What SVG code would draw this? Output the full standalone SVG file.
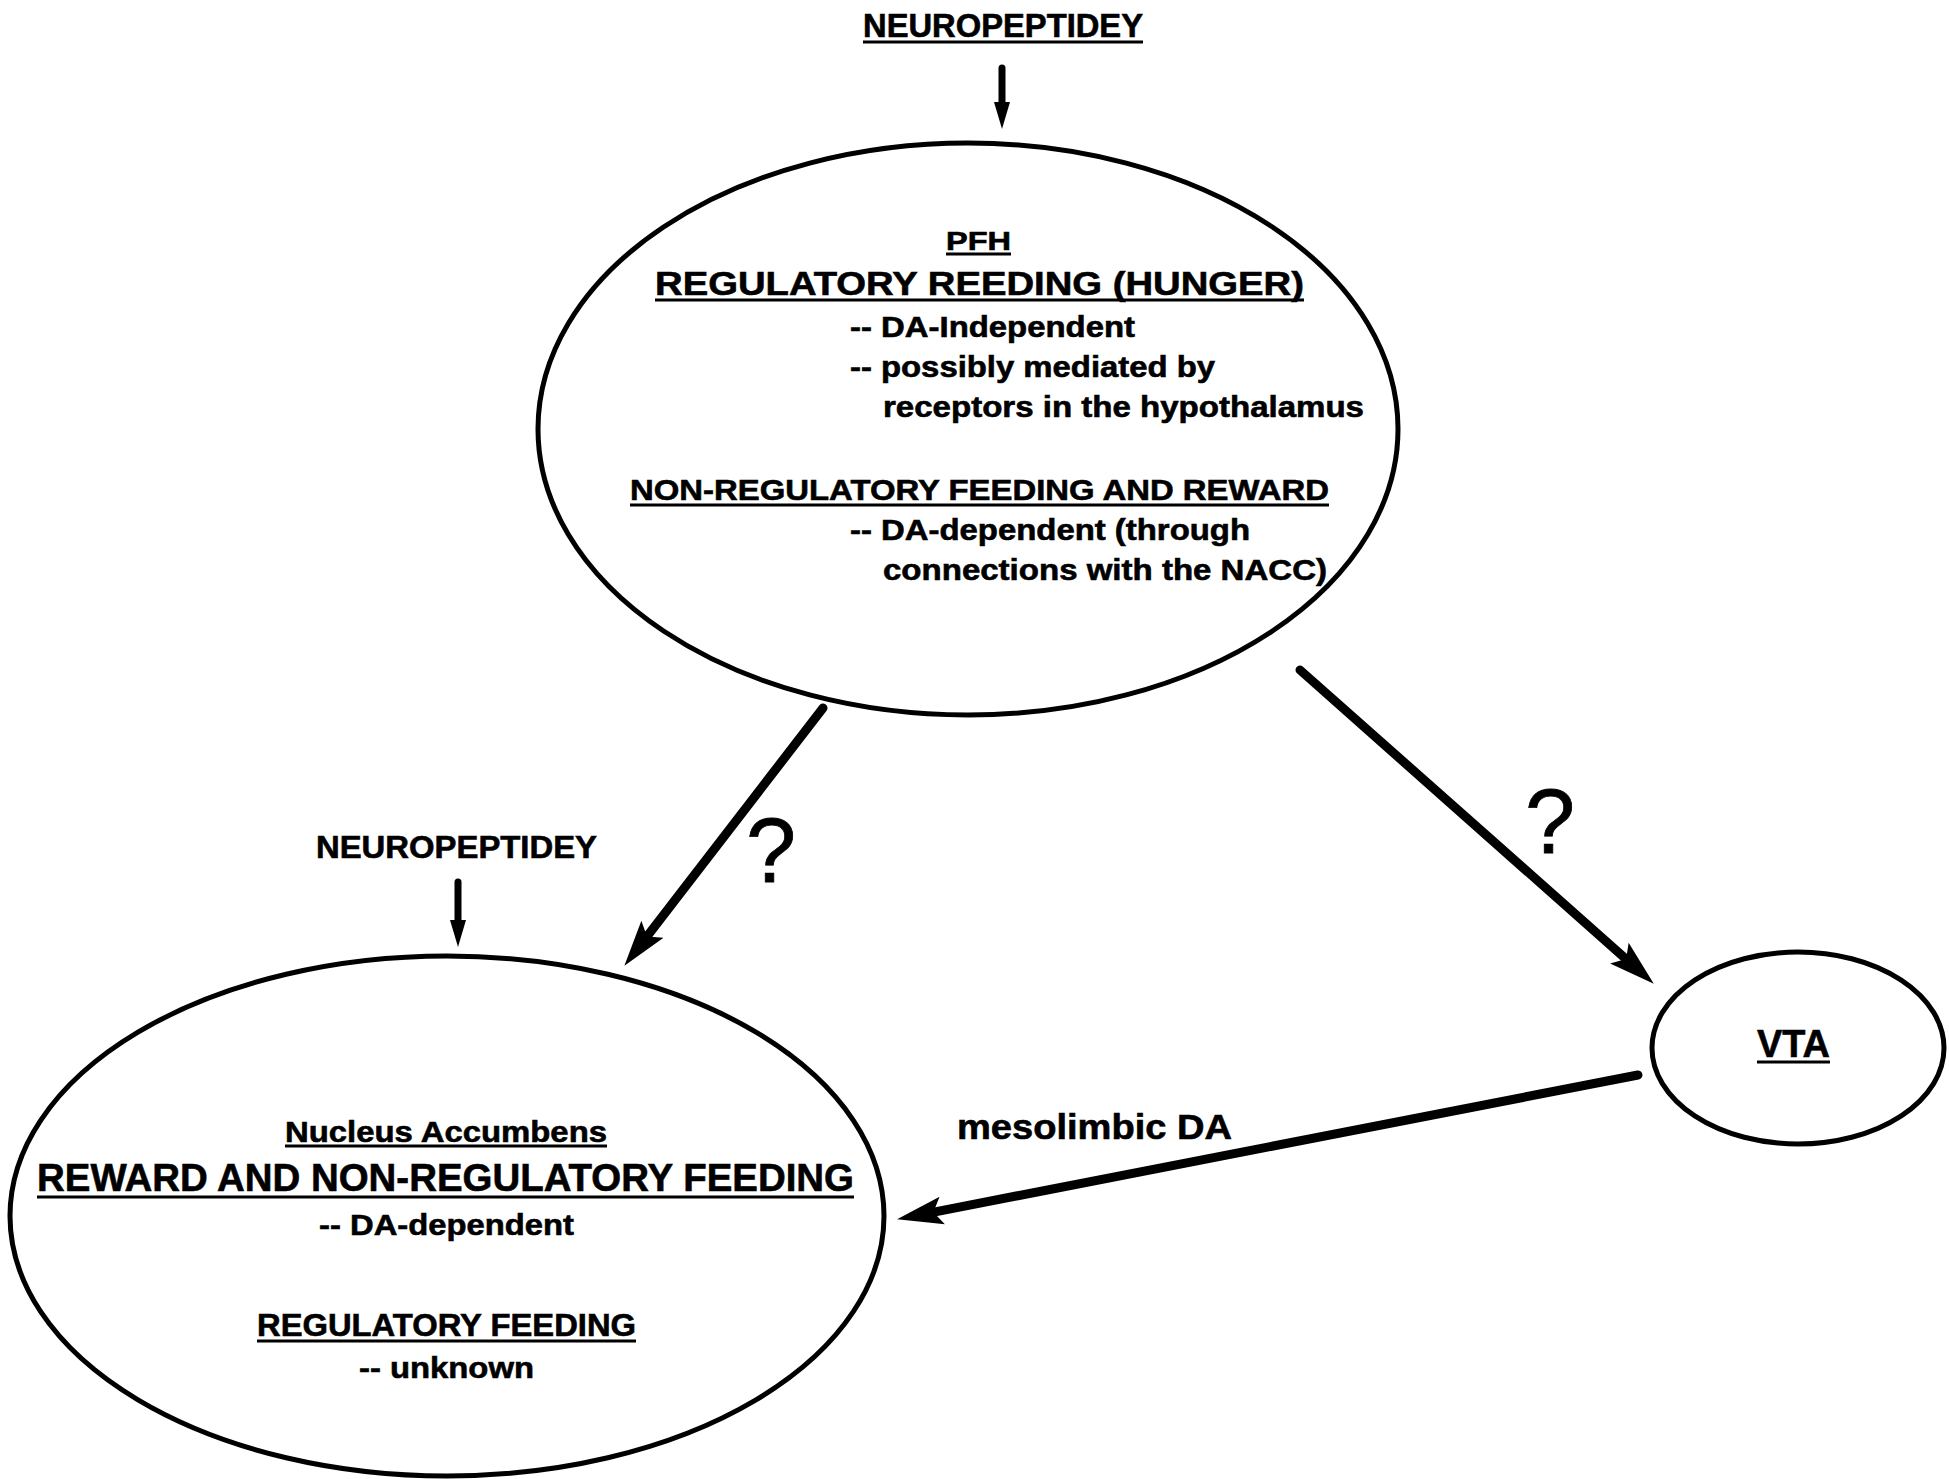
<svg xmlns="http://www.w3.org/2000/svg" width="1949" height="1479" viewBox="0 0 1949 1479">
<style>
.bg{fill:#ffffff}
.node{fill:none;stroke:#000;stroke-width:5}
.t{font-family:"Liberation Sans",Arial,Helvetica,sans-serif;font-weight:bold;fill:#000;stroke:#000;stroke-width:0.6}
.q{font-family:"Liberation Sans",Arial,Helvetica,sans-serif;font-weight:normal;fill:#000;stroke:#000;stroke-width:0.8}
.ul{stroke:#000;stroke-width:3}
.big{fill:none;stroke:#000;stroke-width:9;stroke-linecap:round;marker-end:url(#bigHead)}
.small{fill:none;stroke:#000;stroke-width:7;stroke-linecap:round;marker-end:url(#smallHead)}
</style>
<defs>
<marker id="bigHead" markerUnits="userSpaceOnUse" viewBox="0 0 48 32" markerWidth="48" markerHeight="32" refX="15" refY="16" orient="auto">
<path d="M46,16 L0,2 L9,16 L0,30 Z" fill="#000"/>
</marker>
<marker id="smallHead" markerUnits="userSpaceOnUse" viewBox="0 0 28 18" markerWidth="28" markerHeight="18" refX="2" refY="9" orient="auto">
<path d="M0,1 L27,9 L0,17 Z" fill="#000"/>
</marker>
</defs>
<rect class="bg" x="0" y="0" width="1949" height="1479"/>

<g id="connectors">
<line id="npy-top-arrow" class="small" x1="1002" y1="68" x2="1002" y2="104"/>
<line id="npy-nacc-arrow" class="small" x1="458" y1="882" x2="458" y2="922"/>
<line id="pfh-nacc" class="big" x1="823" y1="708" x2="643.3" y2="941.2"/>
<line id="pfh-vta" class="big" x1="1300" y1="670" x2="1630.6" y2="963.1"/>
<line id="vta-nacc" class="big" x1="1638" y1="1075" x2="927.5" y2="1213.3"/>
<text class="q" x="771" y="882" font-size="90" text-anchor="middle">?</text>
<text class="q" x="1550" y="853" font-size="90" text-anchor="middle">?</text>
<text class="t" x="957" y="1139" font-size="35" textLength="275" lengthAdjust="spacingAndGlyphs">mesolimbic DA</text>
</g>

<g id="npy-top">
<text class="t" x="863" y="37" font-size="33" textLength="280" lengthAdjust="spacingAndGlyphs">NEUROPEPTIDEY</text>
<line class="ul" x1="863" y1="42" x2="1143" y2="42"/>
</g>

<g id="npy-nacc">
<text class="t" x="316" y="858" font-size="31" textLength="281" lengthAdjust="spacingAndGlyphs">NEUROPEPTIDEY</text>
</g>

<g id="pfh">
<ellipse class="node" cx="968" cy="429" rx="430" ry="286"/>
<text class="t" x="946" y="250" font-size="26" textLength="65" lengthAdjust="spacingAndGlyphs">PFH</text>
<line class="ul" x1="946" y1="254" x2="1011" y2="254"/>
<text class="t" x="655" y="295" font-size="34" textLength="649" lengthAdjust="spacingAndGlyphs">REGULATORY REEDING (HUNGER)</text>
<line class="ul" x1="655" y1="300" x2="1304" y2="300"/>
<text class="t" x="850" y="337" font-size="29" textLength="285" lengthAdjust="spacingAndGlyphs">-- DA-Independent</text>
<text class="t" x="850" y="377" font-size="29" textLength="365" lengthAdjust="spacingAndGlyphs">-- possibly mediated by</text>
<text class="t" x="883" y="417" font-size="29" textLength="481" lengthAdjust="spacingAndGlyphs">receptors in the hypothalamus</text>
<text class="t" x="630" y="500" font-size="30" textLength="699" lengthAdjust="spacingAndGlyphs">NON-REGULATORY FEEDING AND REWARD</text>
<line class="ul" x1="630" y1="505" x2="1329" y2="505"/>
<text class="t" x="850" y="540" font-size="29" textLength="400" lengthAdjust="spacingAndGlyphs">-- DA-dependent (through</text>
<text class="t" x="883" y="580" font-size="29" textLength="444" lengthAdjust="spacingAndGlyphs">connections with the NACC)</text>
</g>

<g id="nacc">
<ellipse class="node" cx="447" cy="1216" rx="437" ry="260"/>
<text class="t" x="285" y="1142" font-size="30" textLength="322" lengthAdjust="spacingAndGlyphs">Nucleus Accumbens</text>
<line class="ul" x1="285" y1="1146" x2="607" y2="1146"/>
<text class="t" x="37" y="1191" font-size="39" textLength="817" lengthAdjust="spacingAndGlyphs">REWARD AND NON-REGULATORY FEEDING</text>
<line class="ul" x1="37" y1="1197" x2="854" y2="1197"/>
<text class="t" x="319" y="1235" font-size="30" textLength="255" lengthAdjust="spacingAndGlyphs">-- DA-dependent</text>
<text class="t" x="257" y="1336" font-size="32" textLength="379" lengthAdjust="spacingAndGlyphs">REGULATORY FEEDING</text>
<line class="ul" x1="257" y1="1341" x2="636" y2="1341"/>
<text class="t" x="359" y="1378" font-size="30" textLength="175" lengthAdjust="spacingAndGlyphs">-- unknown</text>
</g>

<g id="vta">
<ellipse class="node" cx="1798" cy="1048" rx="146" ry="96" stroke-width="6"/>
<text class="t" x="1757" y="1057" font-size="38" textLength="73" lengthAdjust="spacingAndGlyphs">VTA</text>
<line class="ul" x1="1757" y1="1062" x2="1830" y2="1062"/>
</g>
</svg>
